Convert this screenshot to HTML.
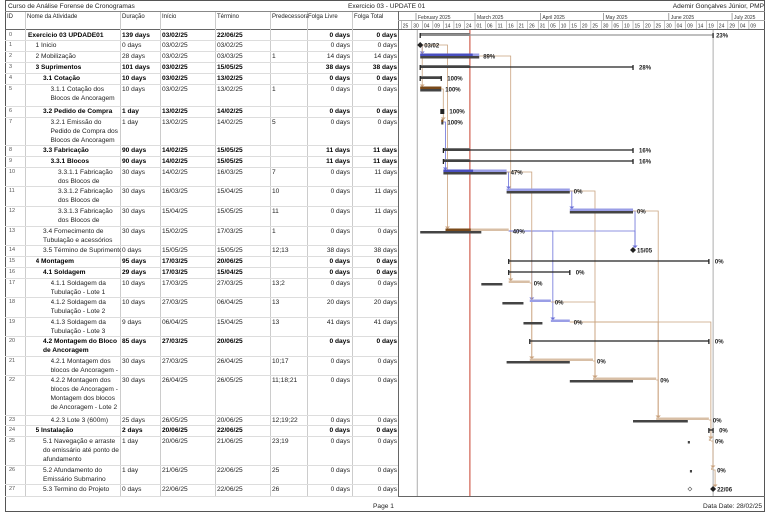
<!DOCTYPE html>
<html><head><meta charset="utf-8">
<style>
body{margin:0;background:#fff;width:768px;height:513px;overflow:hidden;font-family:"Liberation Sans",sans-serif;}
#wrap{position:relative;width:768px;height:513px;}
.t{position:absolute;font-size:6.6px;color:#222;line-height:9px;}
.b{font-weight:bold;color:#000;}
.r{text-align:right;}
svg{position:absolute;left:0;top:0;}
</style></head>
<body>
<div id="wrap">
<svg id="g" width="768" height="513"></svg>
<div id="tbl"></div>
</div>
<script>
// ---- data ----
const names=["Exercicio 03 UPDADE01","1 Inicio","2 Mobilização","3 Suprimentos","3.1 Cotação","3.1.1 Cotação dos Blocos de Ancoragem","3.2 Pedido de Compra","3.2.1 Emissão do Pedido de Compra dos Blocos de Ancoragem","3.3 Fabricação","3.3.1 Blocos","3.3.1.1 Fabricação dos Blocos de","3.3.1.2 Fabricação dos Blocos de","3.3.1.3 Fabricação dos Blocos de","3.4 Fornecimento de Tubulação e acessórios","3.5 Término de Suprimentos","4 Montagem","4.1 Soldagem","4.1.1 Soldagem da Tubulação - Lote 1","4.1.2 Soldagem da Tubulação - Lote 2","4.1.3 Soldagem da Tubulação - Lote 3","4.2 Montagem do Bloco de Ancoragem","4.2.1 Montagem dos blocos de Ancoragem -","4.2.2 Montagem dos blocos de Ancoragem - Montagem dos blocos de Ancoragem - Lote 2","4.2.3 Lote 3 (600m)","5 Instalação","5.1 Navegação e arraste do emissário até ponto de afundamento","5.2 Afundamento do Emissário Submarino","5.3 Termino do Projeto"];
const levels=[0,1,1,1,2,3,2,3,2,3,4,4,4,2,2,1,2,3,3,3,2,3,3,3,1,2,2,2];
const summary=[1,0,0,1,1,0,1,0,1,1,0,0,0,0,0,1,1,0,0,0,1,0,0,0,1,0,0,0];
const durations=["139 days","0 days","28 days","101 days","10 days","10 days","1 day","1 day","90 days","90 days","30 days","30 days","30 days","30 days","0 days","95 days","29 days","10 days","10 days","9 days","85 days","30 days","30 days","25 days","2 days","1 day","1 day","0 days"];
const starts=["03/02/25","03/02/25","03/02/25","03/02/25","03/02/25","03/02/25","13/02/25","13/02/25","14/02/25","14/02/25","14/02/25","16/03/25","15/04/25","15/02/25","15/05/25","17/03/25","17/03/25","17/03/25","27/03/25","06/04/25","27/03/25","27/03/25","26/04/25","26/05/25","20/06/25","20/06/25","21/06/25","22/06/25"];
const finishes=["22/06/25","03/02/25","03/03/25","15/05/25","13/02/25","13/02/25","14/02/25","14/02/25","15/05/25","15/05/25","16/03/25","15/04/25","15/05/25","17/03/25","15/05/25","20/06/25","15/04/25","27/03/25","06/04/25","15/04/25","20/06/25","26/04/25","26/05/25","20/06/25","22/06/25","21/06/25","22/06/25","22/06/25"];
const preds=["","","1","","","1","","5","","","7","10","11","1","12;13","","","13;2","13","13","","10;17","11;18;21","12;19;22","","23;19","25","26"];
const freeSlack=["0 days","0 days","14 days","38 days","0 days","0 days","0 days","0 days","11 days","11 days","0 days","0 days","0 days","0 days","38 days","0 days","0 days","0 days","20 days","41 days","0 days","0 days","0 days","0 days","0 days","0 days","0 days","0 days"];
const totalSlack=["0 days","0 days","14 days","38 days","0 days","0 days","0 days","0 days","11 days","11 days","11 days","11 days","11 days","0 days","38 days","0 days","0 days","0 days","20 days","41 days","0 days","0 days","0 days","0 days","0 days","0 days","0 days","0 days"];
const pct=[23,100,89,28,100,100,100,100,16,16,47,0,0,40,0,0,0,0,0,0,0,0,0,0,0,0,0,0];
const baseStarts=["03/02/25","03/02/25","03/02/25","03/02/25","03/02/25","03/02/25","13/02/25","13/02/25","14/02/25","14/02/25","14/02/25","16/03/25","15/04/25","03/02/25","15/05/25","17/03/25","17/03/25","04/03/25","14/03/25","24/03/25","27/03/25","16/03/25","15/04/25","15/05/25","20/06/25","10/06/25","11/06/25","11/06/25"];
const baseFinishes=["22/06/25","03/02/25","03/03/25","15/05/25","13/02/25","13/02/25","14/02/25","14/02/25","15/05/25","15/05/25","16/03/25","15/04/25","15/05/25","04/03/25","15/05/25","20/06/25","15/04/25","14/03/25","24/03/25","02/04/25","20/06/25","15/04/25","15/05/25","10/06/25","22/06/25","11/06/25","12/06/25","11/06/25"];
const dataDate="28/02/25";
const dayTicks=["25","30","04","09","14","19","24","01","06","11","16","21","26","31","05","10","15","20","25","30","05","10","15","20","25","30","04","09","14","19","24","29","04","09"];
const months=["February 2025","March 2025","April 2025","May 2025","June 2025","July 2025"];
const monthStarts=["01/02/25","01/03/25","01/04/25","01/05/25","01/06/25","01/07/25"];

// ---- layout ----
const rowTops=[30,40,51,62,73,84,106,117,145,156,167,186,206,226,245,256,267,278,297,317,336,356,375,415,425,436,465,484,496];
const NS="http://www.w3.org/2000/svg";
const svg=document.getElementById('g');
function el(tag,attrs,parent){const e=document.createElementNS(NS,tag);for(const k in attrs)e.setAttribute(k,attrs[k]);(parent||svg).appendChild(e);return e;}
function dnum(s){const p=s.split('/');return (Date.UTC(2000+ +p[2],+p[1]-1,+p[0])-Date.UTC(2025,1,1))/86400000;}
const X0=416,PX=2.107;
function xs(s){return X0+dnum(s)*PX;}

// frame & grid
el('rect',{x:5.5,y:0.5,width:759,height:511,fill:'none',stroke:'#555','stroke-width':1});
let l;
l=el('line',{x1:5,y1:11.5,x2:765,y2:11.5,stroke:'#888'});
l=el('line',{x1:5,y1:29.5,x2:765,y2:29.5,stroke:'#666'});
l=el('line',{x1:5,y1:496.5,x2:765,y2:496.5,stroke:'#666'});
l=el('line',{x1:398.5,y1:11,x2:398.5,y2:497,stroke:'#666'});
l=el('line',{x1:398,y1:20.5,x2:765,y2:20.5,stroke:'#aaa'});
const colX=[25,120,160,215,270,307,352];
colX.forEach(c=>{el('line',{x1:c+0.5,y1:12,x2:c+0.5,y2:496,stroke:'#ccc'});});
for(let i=0;i<rowTops.length-1;i++){
  el('line',{x1:5,y1:rowTops[i+1]+0.5,x2:398,y2:rowTops[i+1]+0.5,stroke:'#ddd'});
}
// timescale
months.forEach((m,i)=>{
  const x=xs(monthStarts[i]);
  el('line',{x1:x,y1:13,x2:x,y2:20,stroke:'#666','stroke-width':0.6});
  const t=el('text',{x:x+2,y:19,'font-size':5,fill:'#333'});t.textContent=m;
  
});
dayTicks.forEach((d,i)=>{
  const x=X0+(-7+5*i)*PX;
  if(x>764)return;
  el('line',{x1:x,y1:21,x2:x,y2:29,stroke:'#888','stroke-width':0.5});
  const t=el('text',{x:x+1.5,y:27.5,'font-size':5,fill:'#333'});t.textContent=d;
  
});
// vertical lines
el('line',{x1:xs(starts[0])-3,y1:30,x2:xs(starts[0])-3,y2:496,stroke:'#999','stroke-width':0.8});
el('line',{x1:xs(finishes[0]),y1:30,x2:xs(finishes[0]),y2:496,stroke:'#999','stroke-width':0.8});
const dd=el('line',{x1:xs(dataDate)-3,y1:30,x2:xs(dataDate)-3,y2:496,stroke:'#d06050','stroke-width':1.2});


// links
for(let i=0;i<names.length;i++){
  if(!preds[i])continue;
  const crit=totalSlack[i]==="0 days";
  const col=crit?'#c9a27e':'#6b70d8';
  preds[i].split(';').forEach(p=>{
    const pi=+p;if(pi===1&&i!==5&&i!==13&&i!==2)return;
    const px=xs(finishes[pi]),py=rowTops[pi]+5;
    const sx=Math.max(xs(starts[i]),px)+2,sy=rowTops[i]+3;
    const path=el('path',{d:`M${px},${py} H${sx} V${sy}`,fill:'none',stroke:col,'stroke-width':0.8});
    
    el('path',{d:`M${sx-2.5},${sy-2.5} L${sx+2.5},${sy-2.5} L${sx},${sy}Z`,fill:col});
  });
}

// bars
for(let i=0;i<names.length;i++){
  const y=rowTops[i]+5;
  const s=xs(starts[i]),f=xs(finishes[i]),bs=xs(baseStarts[i]),bf=xs(baseFinishes[i]);
  const crit=totalSlack[i]==="0 days";
  let labelX=f+4,label=pct[i]+'%';
  if(summary[i]){
    if(bf-bs>3){
      const bl=el('rect',{x:bs,y:y-2,width:Math.max(0,Math.min(bf,xs(dataDate)-3)-bs),height:3,fill:'#777'});
    }
    const ln=el('line',{x1:s,y1:y,x2:f,y2:y,stroke:i===0?'#999':'#222','stroke-width':1.3});
    
    el('line',{x1:s,y1:y-2,x2:s,y2:y+3,stroke:'#222','stroke-width':1.3});
    el('line',{x1:f,y1:y-2,x2:f,y2:y+3,stroke:'#222','stroke-width':1.3});
    if(f-s<3){el('rect',{x:s-1,y:y-2,width:4,height:5,fill:'#222'});}
    labelX=f+(i===0?3:6);
  } else if(durations[i]==="0 days"){
    const mk=el('path',{d:`M${f},${y-3} L${f+3},${y} L${f},${y+3} L${f-3},${y}Z`,fill:'#222'});
    
    if(bf!==f)el('path',{d:`M${bf},${y-2} L${bf+2},${y} L${bf},${y+2} L${bf-2},${y}Z`,fill:'#fff',stroke:'#555','stroke-width':0.6});
    label=finishes[i].slice(0,5);
  } else {
    const b=el('rect',{x:bs,y:y,width:Math.max(2,bf-bs),height:2.5,fill:'#444'});
    
    const c=el('rect',{x:s,y:y-2.5,width:Math.max(2,f-s),height:2.5,fill:crit?'#d8bfa6':'#9a9ee6'});
    
    if(pct[i]>0)el('rect',{x:s,y:y-2.5,width:(f-s)*pct[i]/100,height:2.5,fill:crit?'#7a4a1a':'#4a4fc0'});
  }
  const t=el('text',{x:labelX,y:y+2.5,'font-size':6,fill:'#222','font-weight':'bold'});
  t.textContent=label;
  
}

// table
const tbl=document.getElementById('tbl');
function add(txt,x,y,w,cls,name,extra){
  const d=document.createElement('div');d.className='t '+(cls||'');
  d.style.left=x+'px';d.style.top=y+'px';if(w)d.style.width=w+'px';
  if(extra)Object.assign(d.style,extra);
  d.textContent=txt;
  
  
  tbl.appendChild(d);return d;
}
add("Curso de Análise Forense de Cronogramas",8,1.5,0,'','report-title');
add("Exercicio 03 - UPDATE 01",348,1.5,0,'','exercise-title');
add("Ademir Gonçalves Júnior, PMP",640,1.5,124,'r','author');
const hdr=["ID","Nome da Atividade","Duração","Início","Término","Predecessoras","Folga Livre","Folga Total"];
const hx=[7,27,122,162,217,272,308,354];
hdr.forEach((h,i)=>add(h,hx[i],13,i===5?36:0,'','column-header',{fontSize:'6px',overflow:'hidden',whiteSpace:'nowrap'}));
for(let i=0;i<names.length;i++){
  const y=rowTops[i]+1,h=rowTops[i+1]-rowTops[i]-1;
  const b=summary[i]?'b':'';
  add(String(i),9,y,0,'','row-id',{fontSize:'5.5px',color:'#555'});
  add(names[i],28+levels[i]*7.5,y,93-levels[i]*7.5,b,'task-name',{height:h+'px',overflow:'hidden',whiteSpace:i===14?'nowrap':'normal'});
  add(durations[i],122,y,0,b,'duration');
  add(starts[i],162,y,0,b,'start-date');
  add(finishes[i],217,y,0,b,'finish-date');
  add(preds[i],272,y,0,'','predecessors');
  add(freeSlack[i],307,y,43,'r '+b,'free-slack');
  add(totalSlack[i],352,y,45,'r '+b,'total-slack');
}
add("Page 1",373,502,0,'','page-number');
add("Data Date: 28/02/25",680,502,82,'r','data-date-footer');
</script>
</body></html>
